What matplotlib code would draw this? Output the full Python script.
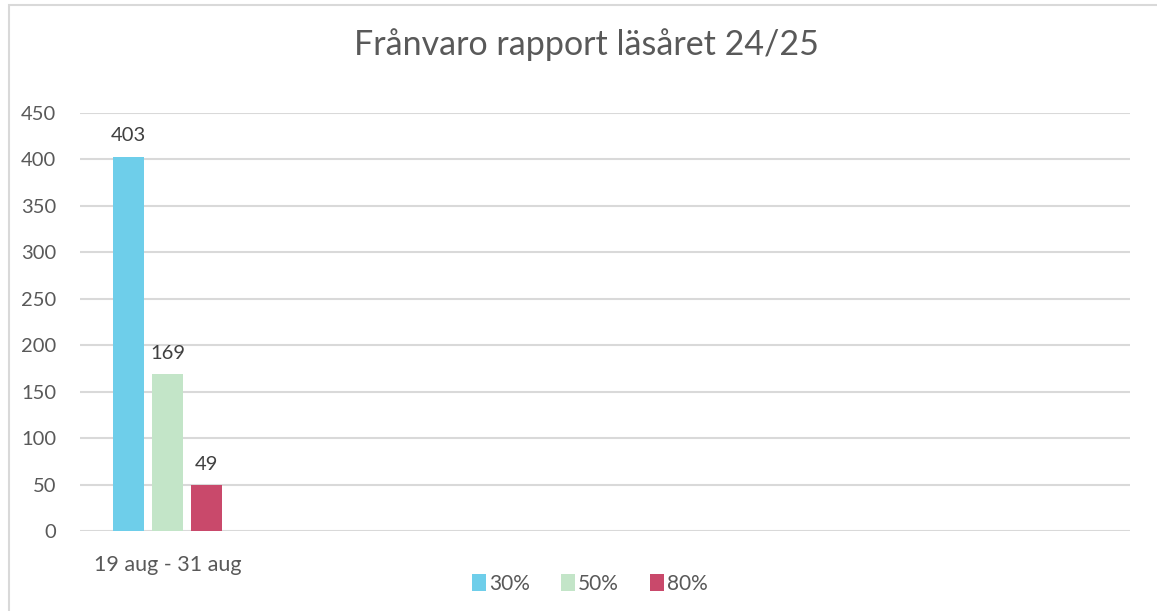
import matplotlib
matplotlib.use("Agg")
import matplotlib.pyplot as plt
import numpy as np
from matplotlib.patches import Rectangle, Patch

plt.rcParams['font.family'] = ['Lato', 'DejaVu Sans']

title = "Frånvaro rapport läsåret 24/25"
categories = ["19 aug - 31 aug", "", "", "", "", ""]
series_names = ["30%", "50%", "80%"]
v30 = [403]
v50 = [169]
v80 = [49]
colors = ["#6ECEEA", "#C3E5C8", "#C9496B"]
yticks = [0, 50, 100, 150, 200, 250, 300, 350, 400, 450]

W, H = 1157, 611
fig = plt.figure(figsize=(W / 100, H / 100), dpi=100)
ax = fig.add_axes([80 / W, 1 - 531 / H, (1130 - 80) / W, (531 - 113) / H])

bw = 31 / 175
step = 39 / 175
txt = "#595959"
for i, (vals, c, name) in enumerate(zip([v30, v50, v80], colors, series_names)):
    x = np.arange(len(vals)) + (i - 1) * step
    bars = ax.bar(x, vals, width=bw, color=c, label=name, zorder=3)
    for b, v in zip(bars, vals):
        ax.annotate(str(v), (b.get_x() + b.get_width() / 2, v), xytext=(0, 9),
                    textcoords="offset points", ha="center", va="bottom",
                    fontsize=14.5, color="#404040")

ax.set_xlim(-0.5, len(categories) - 0.5)
ax.set_ylim(0, 450)
ax.set_yticks(yticks)
ax.set_xticks(np.arange(len(categories)))
ax.set_xticklabels(categories)
ax.yaxis.grid(True, color="#D9D9D9", linewidth=1.5, zorder=0)
ax.set_axisbelow(True)
for s in ax.spines.values():
    s.set_visible(False)
ax.tick_params(axis="y", length=0, pad=17, labelsize=14.5, labelcolor=txt)
ax.tick_params(axis="x", length=0, pad=17, labelsize=15.5, labelcolor=txt)

fig.text(586 / W, 1 - 45 / H, title, ha="center", va="center", fontsize=24.5, color=txt)

handles = [Patch(facecolor=c, edgecolor="none") for c in colors]
fig.legend(handles, series_names, loc="center", bbox_to_anchor=(590 / W, 1 - 584 / H),
           ncol=3, frameon=False, fontsize=15, handlelength=0.65, handleheight=0.9,
           handletextpad=0.15, columnspacing=1.5, labelcolor=txt)

fig.patches.append(Rectangle((9 / W, -0.1), 1.2, 1 - 5 / H + 0.1, transform=fig.transFigure,
                             fill=False, edgecolor="#D9D9D9", linewidth=1.5))

fig.savefig("out.png", dpi=100)
